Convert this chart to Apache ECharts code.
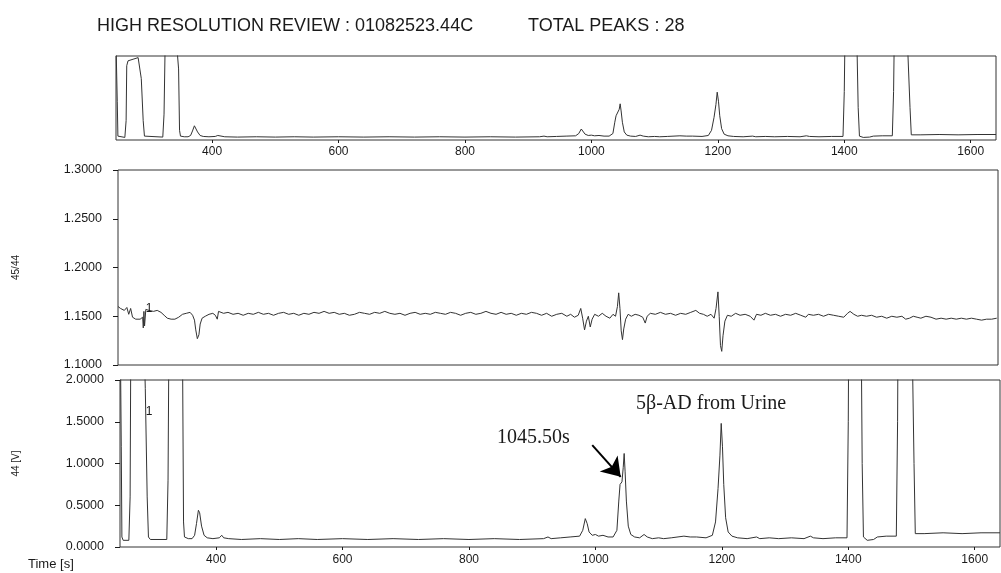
<!DOCTYPE html>
<html>
<head>
<meta charset="utf-8">
<script src="https://cdn.jsdelivr.net/npm/echarts@6/dist/echarts.min.js"></script>
<style>
  html, body { margin: 0; padding: 0; background: #ffffff; }
  #chart { width: 1001px; height: 573px; }
</style>
</head>
<body>
<div id="chart"></div>
<script>
// Time axis (seconds) shared by all three traces
const timeRange = [248, 1640];
const timeTicks = [400, 600, 800, 1000, 1200, 1400, 1600];

// Ratio axis (45/44) and intensity axis (44 [V])
const ratioRange = [1.10, 1.30];
const ratioStep = 0.05;
const signalRange = [0, 2.0];
const signalStep = 0.5;
const overviewMax = 2.6;

// Header texts
const headerTitle = 'HIGH RESOLUTION REVIEW : 01082523.44C';
const headerPeaks = 'TOTAL PEAKS : 28';

// Mass 44 intensity trace [time s, V]
const signal44 = [
  [248, 3.0], [250, 1.2], [251, 0.12], [253, 0.08], [262, 0.08], [264, 0.6],
  [265, 2.3], [267, 2.45], [275, 2.5], [283, 2.55], [286, 2.5], [288, 1.9],
  [291, 0.6], [293, 0.12], [296, 0.09], [322, 0.09], [324, 0.8], [325.5, 2.65],
  [330, 2.7], [345, 2.7], [347, 2.2], [348.5, 0.3], [350, 0.12], [356, 0.1],
  [362, 0.1], [366, 0.14], [369, 0.28], [372, 0.44], [374, 0.41], [377, 0.25],
  [381, 0.14], [386, 0.11], [395, 0.1], [405, 0.11], [409, 0.14], [412, 0.11],
  [420, 0.1], [440, 0.09], [470, 0.1], [500, 0.09], [530, 0.1], [560, 0.09],
  [600, 0.1], [640, 0.09], [680, 0.1], [720, 0.09], [760, 0.1], [800, 0.09],
  [840, 0.1], [880, 0.09], [918, 0.1], [925, 0.12], [930, 0.1], [945, 0.11],
  [960, 0.12], [975, 0.13], [980, 0.2], [984, 0.34], [987, 0.28], [990, 0.18],
  [995, 0.14], [1000, 0.15], [1005, 0.13], [1012, 0.14], [1020, 0.12], [1028, 0.12],
  [1034, 0.2], [1037, 0.55], [1039, 0.75], [1042, 0.78], [1044, 0.95], [1045.5, 1.12],
  [1047, 0.9], [1049, 0.55], [1052, 0.25], [1056, 0.15], [1062, 0.12], [1070, 0.11],
  [1077, 0.15], [1082, 0.12], [1090, 0.1], [1100, 0.11], [1108, 0.1], [1120, 0.11],
  [1140, 0.13], [1150, 0.12], [1160, 0.12], [1175, 0.11], [1185, 0.14], [1190, 0.3],
  [1194, 0.7], [1197, 1.1], [1199, 1.48], [1201, 1.2], [1203, 0.75], [1206, 0.35],
  [1210, 0.18], [1216, 0.13], [1225, 0.11], [1240, 0.1], [1255, 0.12], [1260, 0.1],
  [1275, 0.11], [1290, 0.1], [1310, 0.11], [1330, 0.1], [1340, 0.13], [1345, 0.11],
  [1360, 0.1], [1380, 0.11], [1398, 0.11], [1400, 1.5], [1401, 3.0], [1420, 3.0],
  [1422, 1.0], [1424, 0.12], [1430, 0.08], [1440, 0.09], [1446, 0.12], [1460, 0.13],
  [1476, 0.13], [1478, 1.5], [1479, 3.0], [1500, 3.0], [1504, 1.0], [1506, 0.16],
  [1520, 0.16], [1550, 0.17], [1580, 0.16], [1610, 0.17], [1640, 0.17]
];

// Isotope ratio 45/44 trace [time s, ratio]
const ratio4544 = [
  [248, 1.160], [252, 1.158], [258, 1.156], [262, 1.159], [265, 1.152], [268, 1.158],
  [271, 1.149], [276, 1.147], [283, 1.147], [287, 1.149], [288, 1.138], [289, 1.155],
  [290, 1.140], [292, 1.157], [297, 1.156], [304, 1.155], [310, 1.156], [316, 1.154],
  [321, 1.151], [326, 1.148], [332, 1.147], [338, 1.147], [344, 1.149], [350, 1.152],
  [356, 1.153], [362, 1.154], [366, 1.151], [369, 1.146], [371, 1.136], [373.5, 1.127],
  [376, 1.131], [378, 1.142], [381, 1.148], [386, 1.150], [392, 1.152], [398, 1.153],
  [402, 1.151], [405, 1.147], [407, 1.155], [410, 1.156], [415, 1.153], [422, 1.154],
  [430, 1.152], [438, 1.153], [446, 1.151], [454, 1.153], [462, 1.152], [470, 1.154],
  [478, 1.152], [486, 1.153], [494, 1.151], [502, 1.153], [510, 1.154], [518, 1.152],
  [526, 1.153], [534, 1.151], [542, 1.153], [550, 1.152], [558, 1.154], [566, 1.153],
  [574, 1.155], [582, 1.153], [590, 1.154], [598, 1.152], [606, 1.153], [614, 1.151],
  [622, 1.152], [630, 1.154], [638, 1.153], [646, 1.152], [654, 1.154], [662, 1.153],
  [670, 1.155], [678, 1.153], [686, 1.152], [694, 1.153], [702, 1.151], [710, 1.153],
  [718, 1.154], [726, 1.152], [734, 1.153], [742, 1.152], [750, 1.154], [758, 1.153],
  [766, 1.152], [774, 1.154], [782, 1.153], [790, 1.151], [798, 1.153], [806, 1.154],
  [814, 1.152], [822, 1.153], [830, 1.155], [838, 1.153], [846, 1.152], [854, 1.154],
  [862, 1.152], [870, 1.153], [878, 1.151], [886, 1.153], [894, 1.152], [902, 1.154],
  [910, 1.153], [918, 1.151], [926, 1.153], [934, 1.150], [942, 1.152], [950, 1.153],
  [958, 1.150], [964, 1.152], [970, 1.149], [976, 1.151], [980, 1.158], [983, 1.148],
  [986, 1.136], [989, 1.145], [992, 1.150], [995, 1.139], [998, 1.147], [1002, 1.152],
  [1008, 1.150], [1014, 1.153], [1020, 1.150], [1026, 1.148], [1031, 1.152], [1035, 1.150],
  [1038, 1.160], [1040, 1.174], [1042, 1.158], [1044, 1.135], [1046, 1.126], [1048, 1.137],
  [1051, 1.147], [1055, 1.152], [1060, 1.150], [1066, 1.152], [1072, 1.151], [1078, 1.149],
  [1082, 1.143], [1085, 1.150], [1090, 1.153], [1098, 1.152], [1106, 1.154], [1114, 1.152],
  [1122, 1.153], [1130, 1.151], [1138, 1.153], [1146, 1.152], [1154, 1.154], [1162, 1.156],
  [1168, 1.153], [1174, 1.152], [1180, 1.150], [1186, 1.152], [1191, 1.148], [1194, 1.158],
  [1197, 1.175], [1199, 1.150], [1201, 1.120], [1203, 1.114], [1205, 1.130], [1208, 1.145],
  [1212, 1.151], [1218, 1.150], [1225, 1.153], [1232, 1.151], [1240, 1.152], [1248, 1.150],
  [1254, 1.146], [1258, 1.152], [1265, 1.151], [1272, 1.153], [1280, 1.151], [1288, 1.152],
  [1296, 1.150], [1304, 1.152], [1312, 1.151], [1320, 1.153], [1328, 1.151], [1336, 1.149],
  [1340, 1.152], [1348, 1.151], [1356, 1.152], [1364, 1.150], [1372, 1.152], [1380, 1.151],
  [1388, 1.150], [1396, 1.149], [1402, 1.153], [1406, 1.155], [1412, 1.152], [1418, 1.150],
  [1424, 1.151], [1432, 1.150], [1440, 1.151], [1448, 1.149], [1456, 1.150], [1464, 1.148],
  [1472, 1.150], [1480, 1.149], [1488, 1.150], [1494, 1.147], [1500, 1.148], [1506, 1.150],
  [1512, 1.149], [1518, 1.148], [1526, 1.150], [1534, 1.149], [1542, 1.147], [1550, 1.148],
  [1558, 1.147], [1566, 1.148], [1574, 1.147], [1582, 1.148], [1590, 1.147], [1598, 1.148],
  [1606, 1.147], [1614, 1.146], [1622, 1.147], [1630, 1.147], [1638, 1.148]
];

// Peak number markers [time s, value]
const ratioPeakLabel = { text: '1', at: [297, 1.158] };
const signalPeakLabel = { text: '1', at: [294, 1.62] };

// Annotation of the highlighted peak
const peakTimeText = '1045.50s';
const peakTimeAt = [902, 1.31];
const arrowFrom = [995, 1.22];
const arrowTo = [1040, 0.84];
const sampleText = '5β-AD from Urine';
const sampleAt = [1183, 1.72];

const SANS = '"Liberation Sans", Arial, Helvetica, sans-serif';
const SERIF = '"Liberation Serif", "Times New Roman", serif';
const INK = '#1a1a1a';

const traceStyle = { color: '#333333', width: 1 };

function timeAxis(gridIndex, showLabels, margin) {
  return {
    type: 'value', gridIndex: gridIndex,
    min: timeRange[0], max: timeRange[1],
    axisLine: { show: false },
    splitLine: { show: false },
    axisTick: {
      show: showLabels, length: 3, customValues: timeTicks,
      lineStyle: { color: INK, width: 1 }
    },
    axisLabel: {
      show: showLabels, customValues: timeTicks, margin: margin,
      color: INK, fontFamily: SANS, fontSize: 12,
      formatter: v => String(v)
    }
  };
}

function valueAxisStyle(gridIndex, range, step, name, gap) {
  return {
    type: 'value', gridIndex: gridIndex, min: range[0], max: range[1], interval: step,
    name: name, nameLocation: 'middle', nameGap: gap, nameRotate: 90,
    nameTextStyle: { fontFamily: SANS, fontSize: 10, color: INK },
    axisLine: { show: false },
    axisTick: { show: true, length: 5, lineStyle: { color: INK } },
    axisLabel: { margin: 16, color: INK, fontFamily: SANS, fontSize: 12.5,
      formatter: v => v.toFixed(4) },
    splitLine: { show: false }
  };
}

function textMark(text, at, font, size) {
  return {
    coord: at, symbol: 'circle', symbolSize: 1,
    itemStyle: { color: 'rgba(0,0,0,0)' },
    label: {
      show: true, position: 'inside', formatter: text,
      color: INK, fontFamily: font, fontSize: size
    }
  };
}

const chart = echarts.init(document.getElementById('chart'), null, { renderer: 'canvas' });

chart.setOption({
  backgroundColor: '#ffffff',
  animation: false,
  title: [
    { text: headerTitle, left: 97, top: 17, padding: 0,
      textStyle: { fontFamily: SANS, fontSize: 18, fontWeight: 'normal', color: INK } },
    { text: headerPeaks, left: 528, top: 17, padding: 0,
      textStyle: { fontFamily: SANS, fontSize: 18, fontWeight: 'normal', color: INK } },
    { text: 'Time [s]', left: 28, top: 558, padding: 0,
      textStyle: { fontFamily: SANS, fontSize: 13, fontWeight: 'normal', color: INK } }
  ],
  grid: [
    { left: 116, right: 5, top: 56, height: 84, show: true, borderColor: '#333', borderWidth: 1 },
    { left: 118, right: 3, top: 170, height: 195, show: true, borderColor: '#333', borderWidth: 1 },
    { left: 120, right: 1, top: 380, height: 167, show: true, borderColor: '#333', borderWidth: 1 }
  ],
  xAxis: [timeAxis(0, true, 6), timeAxis(1, false, 6), timeAxis(2, true, 7)],
  yAxis: [
    {
      type: 'value', gridIndex: 0, min: 0, max: overviewMax,
      axisLine: { show: false }, axisTick: { show: false },
      axisLabel: { show: false }, splitLine: { show: false }
    },
    valueAxisStyle(1, ratioRange, ratioStep, '45/44', 97),
    valueAxisStyle(2, signalRange, signalStep, '44 [V]', 99)
  ],
  series: [
    {
      name: 'overview', type: 'line', xAxisIndex: 0, yAxisIndex: 0,
      data: signal44, showSymbol: false, symbol: 'none', clip: true,
      lineStyle: traceStyle
    },
    {
      name: '45/44', type: 'line', xAxisIndex: 1, yAxisIndex: 1,
      data: ratio4544, showSymbol: false, symbol: 'none', clip: true,
      lineStyle: traceStyle,
      markPoint: {
        silent: true,
        data: [textMark(ratioPeakLabel.text, ratioPeakLabel.at, SANS, 12)]
      }
    },
    {
      name: '44 [V]', type: 'line', xAxisIndex: 2, yAxisIndex: 2,
      data: signal44, showSymbol: false, symbol: 'none', clip: true,
      lineStyle: traceStyle,
      markPoint: {
        silent: true,
        data: [
          textMark(signalPeakLabel.text, signalPeakLabel.at, SANS, 12),
          textMark(peakTimeText, peakTimeAt, SERIF, 20),
          textMark(sampleText, sampleAt, SERIF, 20)
        ]
      },
      markLine: {
        silent: true,
        symbol: ['none', 'arrow'],
        symbolSize: 18,
        label: { show: false },
        itemStyle: { color: '#000' },
        lineStyle: { color: '#000', width: 2, type: 'solid' },
        data: [[{ coord: arrowFrom }, { coord: arrowTo }]]
      }
    }
  ]
});
</script>
</body>
</html>
